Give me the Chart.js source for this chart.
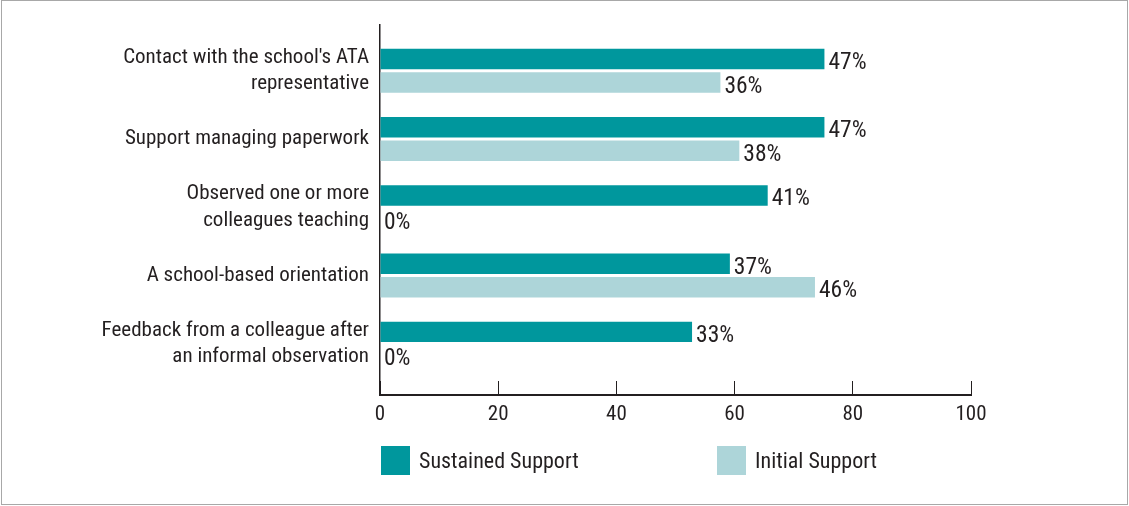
<!DOCTYPE html>
<html>
<head>
<meta charset="utf-8">
<script src="https://cdn.jsdelivr.net/npm/chart.js@4.4.1/dist/chart.umd.min.js"></script>
<style>
  body { margin: 0; background: #fff; }
  #wrap { position: relative; width: 1129px; height: 506px; }
  #frame { position: absolute; left: 1px; top: 0; width: 1125px; height: 503px; border: 1px solid #a8a8a8; pointer-events: none; }
  #box { position: absolute; left: 0; top: 0; width: 1129px; height: 506px; }
  #legend { position: absolute; top: 446px; left: 0; width: 1129px; height: 30px; font-family: Roboto, sans-serif; font-stretch: condensed; font-size: 22px; color: #231f20; }
  .item { position: absolute; top: 0; height: 29px; display: flex; align-items: center; }
  .swatch { width: 29px; height: 29px; margin-right: 9px; }
</style>
</head>
<body>
<div id="wrap">
  <div id="box"><canvas id="chart"></canvas></div>
  <div id="legend"></div>
  <div id="frame"></div>
</div>
<script>
// categories, top to bottom
const categories = [
  ["Contact with the school's ATA", "representative"],
  "Support managing paperwork",
  ["Observed one or more", "colleagues teaching"],
  "A school-based orientation",
  ["Feedback from a colleague after", "an informal observation"]
];

// bar lengths
const sustainedValues = [75.2, 75.2, 65.6, 59.2, 52.8];
const initialValues = [57.6, 60.8, 0, 73.6, 0];

// printed labels next to the bars
const sustainedLabels = ["47%", "47%", "41%", "37%", "33%"];
const initialLabels = ["36%", "38%", "0%", "46%", "0%"];

const xTicks = [0, 20, 40, 60, 80, 100];

// Roboto in its condensed width (the "condensed" keyword rides in the weight slot)
const FONT = "Roboto, sans-serif";
const FONT_STRETCH = "condensed";
const INK = "#231f20";
const TEAL = "#00979d";
const LIGHT = "#add5d9";

// percent labels at the end of each bar
const barLabels = {
  id: 'barLabels',
  afterDatasetsDraw(chart) {
    const ctx = chart.ctx;
    ctx.save();
    ctx.font = "normal " + FONT_STRETCH + " 23.5px " + FONT;
    ctx.fillStyle = INK;
    ctx.textAlign = 'left';
    ctx.textBaseline = 'alphabetic';
    chart.data.datasets.forEach((ds, di) => {
      chart.getDatasetMeta(di).data.forEach((bar, i) => {
        ctx.fillText(ds.valueLabels[i], bar.x + 4, bar.y + 10);
      });
    });
    ctx.restore();
  }
};

const chart = new Chart(document.getElementById('chart'), {
  type: 'bar',
  data: {
    datasets: [
      {
        label: 'Sustained Support',
        data: sustainedValues.map((v, i) => ({ x: v, y: i })),
        valueLabels: sustainedLabels,
        backgroundColor: TEAL
      },
      {
        label: 'Initial Support',
        data: initialValues.map((v, i) => ({ x: v, y: i })),
        valueLabels: initialLabels,
        backgroundColor: LIGHT
      }
    ]
  },
  options: {
    indexAxis: 'y',
    responsive: true,
    maintainAspectRatio: false,
    animation: false,
    categoryPercentage: 0.69,
    barPercentage: 0.87,
    layout: { padding: { top: 25, right: 158, bottom: 0, left: 0 } },
    plugins: {
      legend: { display: false },
      tooltip: { enabled: false }
    },
    scales: {
      y: {
        type: 'linear',
        offset: false,
        reverse: true,
        min: -0.672,
        max: 4.753,
        afterBuildTicks: s => { s.ticks = categories.map((c, i) => ({ value: i })); },
        afterFit: s => { s.width = 380; s.paddingTop = 0; s.paddingBottom = 0; },
        grid: { display: false, drawTicks: false },
        border: { display: true, color: INK, width: 1.5 },
        ticks: {
          padding: 11,
          color: INK,
          font: { family: FONT, size: 21, weight: FONT_STRETCH, lineHeight: 1.24 },
          callback: v => categories[v]
        }
      },
      x: {
        type: 'linear',
        offset: false,
        min: 0,
        max: 100,
        afterBuildTicks: s => { s.ticks = xTicks.map(v => ({ value: v })); },
        afterFit: s => { s.height = 111; },
        grid: { drawOnChartArea: false, drawTicks: true, tickLength: -14, color: INK, lineWidth: 1 },
        border: { display: true, color: INK, width: 2 },
        ticks: {
          padding: 21,
          color: INK,
          maxRotation: 0,
          font: { family: FONT, size: 21, weight: FONT_STRETCH }
        }
      }
    }
  },
  plugins: [barLabels]
});

// html legend under the plot
const legendPos = [381, 717];
const legend = document.getElementById('legend');
chart.data.datasets.forEach((ds, i) => {
  const item = document.createElement('div');
  item.className = 'item';
  item.style.left = legendPos[i] + 'px';
  item.innerHTML = '<span class="swatch" style="background:' + ds.backgroundColor + '"></span><span>' + ds.label + '</span>';
  legend.appendChild(item);
});
</script>
</body>
</html>
